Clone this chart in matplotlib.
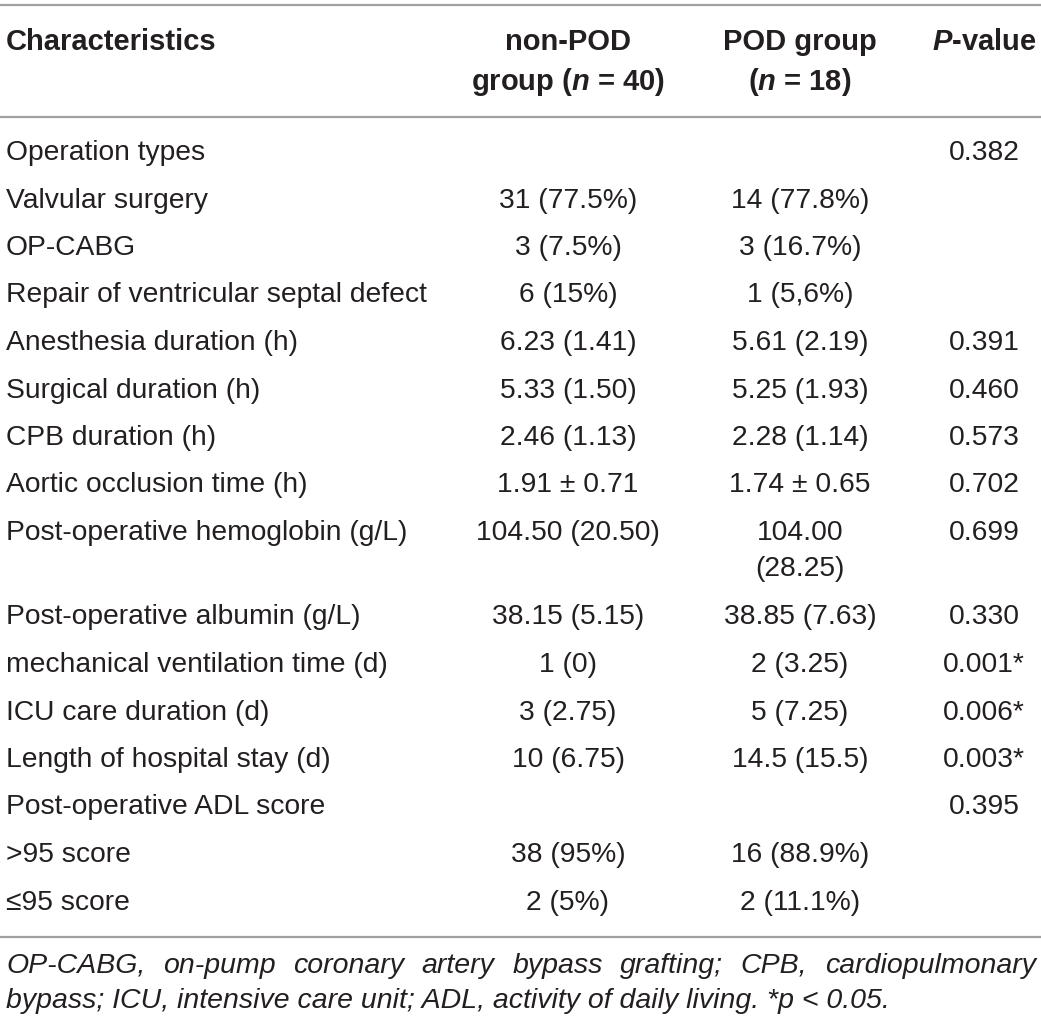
import matplotlib
matplotlib.use('Agg')
import matplotlib.pyplot as plt

plt.rcParams['font.family'] = ['Liberation Sans', 'DejaVu Sans']
plt.rcParams['mathtext.fontset'] = 'custom'
plt.rcParams['mathtext.rm'] = 'Liberation Sans:bold'
plt.rcParams['mathtext.it'] = 'Liberation Sans:italic:bold'
plt.rcParams['mathtext.bf'] = 'Liberation Sans:bold'

# table content
headers = ['Characteristics', 'non-POD\ngroup ($n$ = 40)', 'POD group\n($n$ = 18)', '$P$-value']
labels = ['Operation types', 'Valvular surgery', 'OP-CABG', 'Repair of ventricular septal defect',
          'Anesthesia duration (h)', 'Surgical duration (h)', 'CPB duration (h)',
          'Aortic occlusion time (h)', 'Post-operative hemoglobin (g/L)', 'Post-operative albumin (g/L)',
          'mechanical ventilation time (d)', 'ICU care duration (d)', 'Length of hospital stay (d)',
          'Post-operative ADL score', '>95 score', '\u226495 score']
non_pod = ['', '31 (77.5%)', '3 (7.5%)', '6 (15%)', '6.23 (1.41)', '5.33 (1.50)', '2.46 (1.13)',
           '1.91 \u00b1 0.71', '104.50 (20.50)', '38.15 (5.15)', '1 (0)', '3 (2.75)', '10 (6.75)',
           '', '38 (95%)', '2 (5%)']
pod = ['', '14 (77.8%)', '3 (16.7%)', '1 (5,6%)', '5.61 (2.19)', '5.25 (1.93)', '2.28 (1.14)',
       '1.74 \u00b1 0.65', '104.00\n(28.25)', '38.85 (7.63)', '2 (3.25)', '5 (7.25)', '14.5 (15.5)',
       '', '16 (88.9%)', '2 (11.1%)']
p_values = ['0.382', '', '', '', '0.391', '0.460', '0.573', '0.702', '0.699', '0.330', '0.001*',
            '0.006*', '0.003*', '0.395', '', '']
footnote = ('OP-CABG, on-pump coronary artery bypass grafting; CPB, cardiopulmonary '
            'bypass; ICU, intensive care unit; ADL, activity of daily living. *p < 0.05.')

W, H = 1041, 1023
fig = plt.figure(figsize=(W / 100, H / 100), dpi=100)
ax = fig.add_axes([0, 0, 1, 1])
ax.set_xlim(0, W)
ax.set_ylim(H, 0)
ax.axis('off')

txt = '#231f20'
line_c = '#a0a0a0'
fs = 20.3
fs_head = 21
x_lab, x_np, x_pod, x_p = 6, 568, 800, 984

for y in [5, 117, 937]:
    ax.plot([0, W], [y, y], color=line_c, lw=1.6, solid_capstyle='butt')

# header
ax.text(x_lab, 42, headers[0], fontsize=fs_head, fontweight='bold', color=txt, va='center', ha='left')
for x, h in zip([x_np, x_pod], headers[1:3]):
    top, bottom = h.split('\n')
    ax.text(x, 42, top, fontsize=fs_head, fontweight='bold', color=txt, va='center', ha='center')
    ax.text(x, 82, bottom, fontsize=fs_head, fontweight='bold', color=txt, va='center', ha='center')
ax.text(x_p, 42, headers[3], fontsize=fs_head, fontweight='bold', color=txt, va='center', ha='center')

# body
y = 153
for lab, a, b, p in zip(labels, non_pod, pod, p_values):
    ax.text(x_lab, y, lab, fontsize=fs, color=txt, va='center', ha='left')
    ax.text(x_np, y, a, fontsize=fs, color=txt, va='center', ha='center')
    parts = b.split('\n')
    for k, part in enumerate(parts):
        ax.text(x_pod, y + 36 * k, part, fontsize=fs, color=txt, va='center', ha='center')
    ax.text(x_p, y, p, fontsize=fs, color=txt, va='center', ha='center')
    y += 47.5 + 37 * (len(parts) - 1)

# footnote, first line justified
words = footnote.split(' ')
first = words[:8]
rest = ' '.join(words[8:])
r = fig.canvas.get_renderer()
objs = [ax.text(0, 966, w, fontsize=20.5, style='italic', color=txt, va='center', ha='left') for w in first]
widths = [o.get_window_extent(renderer=r).width for o in objs]
gap = (1036 - x_lab - sum(widths)) / (len(first) - 1)
x = x_lab
for o, w in zip(objs, widths):
    o.set_x(x)
    x += w + gap
ax.text(x_lab, 1001, rest, fontsize=20.5, style='italic', color=txt, va='center', ha='left')

fig.savefig('out.png', dpi=100)
